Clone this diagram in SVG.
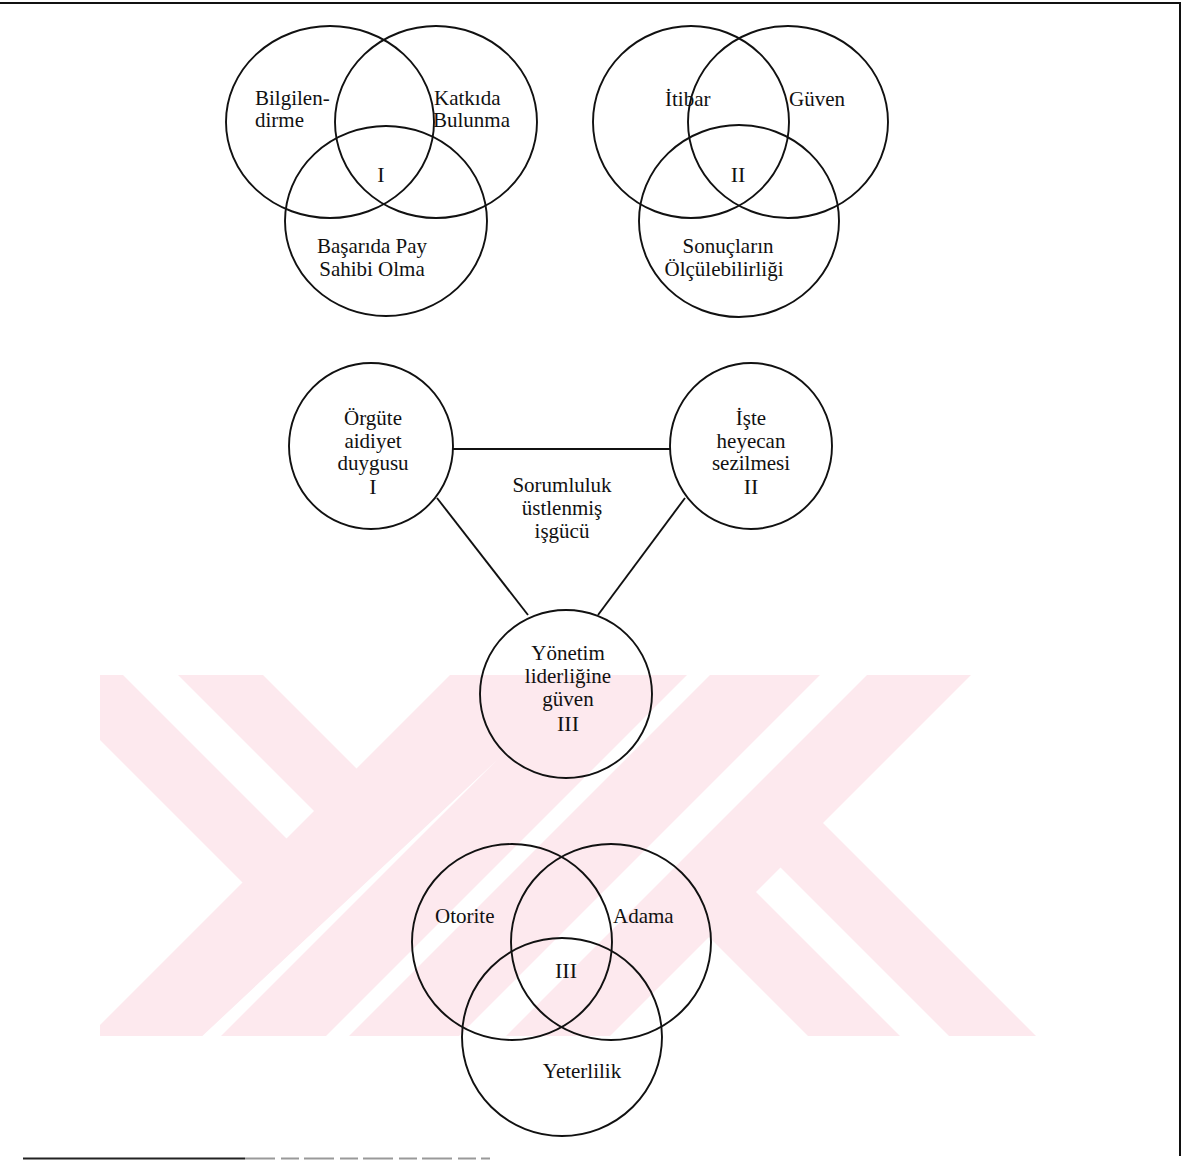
<svg xmlns="http://www.w3.org/2000/svg" width="1187" height="1160" viewBox="0 0 1187 1160">
  <style>
    .ring { fill: none; stroke: #111; stroke-width: 1.9; }
    .link { stroke: #111; stroke-width: 1.9; fill: none; }
    .lbl { font-family: "Liberation Serif", "Times New Roman", serif; font-size: 21px; fill: #111; }
    .num { font-family: "Liberation Serif", "Times New Roman", serif; font-size: 22px; fill: #111; }
    .mid { text-anchor: middle; }
    .wm { fill: #fde9ee; }
    .wmcut { fill: #ffffff; }
  </style>
  <defs>
    <clipPath id="wmclip">
      <rect x="100" y="675" width="960" height="361"/>
    </clipPath>
  </defs>

  <rect width="1187" height="1160" fill="#ffffff"/>

  <!-- background watermark: striped diagonal letter shapes -->
  <g id="watermark" clip-path="url(#wmclip)">
    <polygon class="wm" points="188,600 394,806 280,920 -40,600"/>
    <polygon class="wm" points="525,600 762,600 262,1100 25,1100"/>
    <polygon class="wm" points="785,600 1046,600 546,1100 285,1100"/>
    <polygon class="wm" points="750,750 1100,1100 872,1100 636,864"/>
    <polygon class="wmcut" points="103,600 314,811 286.5,838.5 48,600"/>
    <polygon class="wmcut" points="497,760 520,737 157,1100 134,1100"/>
    <polygon class="wmcut" points="895,600 942,600 442,1100 395,1100"/>
    <polygon class="wmcut" points="780.5,867.5 1013,1100 964,1100 756,892"/>
  </g>

  <!-- page frame -->
  <g id="frame">
    <line x1="0" y1="3" x2="1181" y2="3" stroke="#111" stroke-width="2.2"/>
    <line x1="1180" y1="2" x2="1180" y2="1156" stroke="#111" stroke-width="2"/>
    <line x1="23" y1="1158.5" x2="245" y2="1158.5" stroke="#222" stroke-width="2"/>
    <line x1="245" y1="1158.5" x2="490" y2="1158.5" stroke="#999" stroke-width="2" stroke-dasharray="30,6,18,5"/>
  </g>

  <!-- Venn I -->
  <g id="venn1">
    <ellipse class="ring" cx="330" cy="122" rx="104" ry="96"/>
    <ellipse class="ring" cx="436" cy="122" rx="101" ry="96"/>
    <ellipse class="ring" cx="386" cy="221" rx="101" ry="95"/>
    <text class="lbl" x="255" y="105">Bilgilen-</text>
    <text class="lbl" x="255" y="127">dirme</text>
    <text class="lbl" x="434" y="105">Katkıda</text>
    <text class="lbl" x="433" y="127">Bulunma</text>
    <text class="num mid" x="381" y="182">I</text>
    <text class="lbl mid" x="372" y="253">Başarıda Pay</text>
    <text class="lbl mid" x="372" y="276">Sahibi Olma</text>
  </g>

  <!-- Venn II -->
  <g id="venn2">
    <ellipse class="ring" cx="691" cy="122" rx="98" ry="96"/>
    <ellipse class="ring" cx="788" cy="122" rx="100" ry="96"/>
    <ellipse class="ring" cx="739" cy="221" rx="100" ry="96"/>
    <text class="lbl" x="665" y="106">İtibar</text>
    <text class="lbl" x="789" y="106">Güven</text>
    <text class="num mid" x="738" y="182">II</text>
    <text class="lbl mid" x="728" y="253">Sonuçların</text>
    <text class="lbl mid" x="724" y="276">Ölçülebilirliği</text>
  </g>

  <!-- triangle connectors -->
  <g id="connectors">
    <line class="link" x1="453" y1="449" x2="670" y2="449"/>
    <line class="link" x1="437" y1="498" x2="528" y2="615"/>
    <line class="link" x1="598" y1="615" x2="685" y2="498"/>
  </g>

  <g id="center-label">
    <text class="lbl mid" x="562" y="492">Sorumluluk</text>
    <text class="lbl mid" x="562" y="515">üstlenmiş</text>
    <text class="lbl mid" x="562" y="538">işgücü</text>
  </g>

  <g id="node-aidiyet">
    <ellipse class="ring" cx="371" cy="446" rx="82" ry="83"/>
    <text class="lbl mid" x="373" y="425">Örgüte</text>
    <text class="lbl mid" x="373" y="448">aidiyet</text>
    <text class="lbl mid" x="373" y="470">duygusu</text>
    <text class="num mid" x="373" y="494">I</text>
  </g>

  <g id="node-heyecan">
    <ellipse class="ring" cx="751" cy="446" rx="81" ry="83"/>
    <text class="lbl mid" x="751" y="425">İşte</text>
    <text class="lbl mid" x="751" y="448">heyecan</text>
    <text class="lbl mid" x="751" y="470">sezilmesi</text>
    <text class="num mid" x="751" y="494">II</text>
  </g>

  <g id="node-liderlik">
    <ellipse class="ring" cx="566" cy="694" rx="86" ry="84"/>
    <text class="lbl mid" x="568" y="660">Yönetim</text>
    <text class="lbl mid" x="568" y="683">liderliğine</text>
    <text class="lbl mid" x="568" y="706">güven</text>
    <text class="num mid" x="568" y="731">III</text>
  </g>

  <!-- Venn III -->
  <g id="venn3">
    <ellipse class="ring" cx="512" cy="942" rx="100" ry="98"/>
    <ellipse class="ring" cx="611" cy="942" rx="100" ry="98"/>
    <ellipse class="ring" cx="562" cy="1037" rx="100" ry="99"/>
    <text class="lbl" x="435" y="923">Otorite</text>
    <text class="lbl" x="613" y="923">Adama</text>
    <text class="num mid" x="566" y="978">III</text>
    <text class="lbl mid" x="582" y="1078">Yeterlilik</text>
  </g>
</svg>
